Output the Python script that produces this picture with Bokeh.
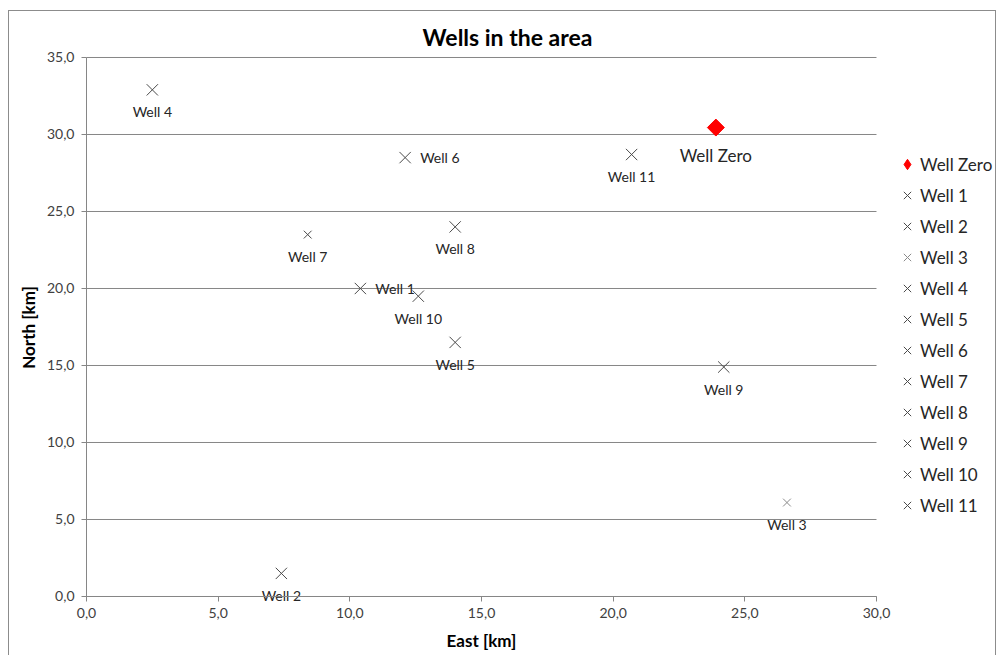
import math
from bokeh.plotting import figure
from bokeh.models import (Range1d, FixedTicker, CustomJSTickFormatter, Legend,
                          LegendItem, ColumnDataSource, Label)
from bokeh.core.properties import value
from bokeh.embed import file_html
from bokeh.resources import INLINE

FONT = "Lato"

# Well coordinates [km]
names = ["Well Zero", "Well 1", "Well 2", "Well 3", "Well 4", "Well 5", "Well 6",
         "Well 7", "Well 8", "Well 9", "Well 10", "Well 11"]
east = [23.9, 10.4, 7.4, 26.6, 2.5, 14.0, 12.1, 8.4, 14.0, 24.2, 12.6, 20.7]
north = [30.45, 20.0, 1.5, 6.1, 32.9, 16.5, 28.5, 23.5, 24.0, 14.9, 19.5, 28.7]

x_ticks = [0, 5, 10, 15, 20, 25, 30]
y_ticks = [0, 5, 10, 15, 20, 25, 30, 35]

# The frame fills the whole canvas; both axes are pinned at 0 so that the
# tick labels, titles and legend all sit inside it.
p = figure(width=988, height=650, x_range=Range1d(-2.924, 34.595),
           y_range=Range1d(-4.221, 37.987),
           output_backend="svg", toolbar_location=None,
           min_border_left=0, min_border_right=0, min_border_top=0,
           min_border_bottom=0)
p.margin = (10, 0, 0, 8)
p.styles = {"border": "1px solid #8c8c8c"}
p.outline_line_color = None
p.background_fill_color = "white"
p.border_fill_color = "white"

tick_fmt = CustomJSTickFormatter(code="return tick.toFixed(1).replace('.', ',');")
for ax, ticks in ((p.xaxis[0], x_ticks), (p.yaxis[0], y_ticks)):
    ax.ticker = FixedTicker(ticks=ticks)
    ax.formatter = tick_fmt
    ax.bounds = (ticks[0], ticks[-1])
    ax.fixed_location = 0
    ax.axis_line_color = "#868686"
    ax.major_tick_line_color = "#868686"
    ax.major_tick_out = 5
    ax.major_tick_in = 0
    ax.minor_tick_line_color = None
    ax.major_label_text_font = FONT
    ax.major_label_text_font_size = "14px"
    ax.major_label_text_color = "#404040"
    ax.major_label_standoff = 7

p.xgrid.grid_line_color = None
p.ygrid.grid_line_color = None

# horizontal grid lines, bounded by the x tick range
x0, x1 = x_ticks[0], x_ticks[-1]
p.segment(x0=[x0] * len(y_ticks), x1=[x1] * len(y_ticks), y0=y_ticks, y1=y_ticks,
          line_color="#868686", line_width=1)

# chart title and axis titles, in screen pixels from the frame's lower left
TITLE_STYLE = dict(x_units="screen", y_units="screen", text_align="center",
                   text_baseline="middle", text_font=FONT, text_font_style="bold",
                   text_color="#000000")
p.add_layout(Label(x=498, y=625, text="Wells in the area", text_font_size="23px",
                   **TITLE_STYLE))
p.add_layout(Label(x=472, y=21, text="East [km]", text_font_size="17px",
                   **TITLE_STYLE))
p.add_layout(Label(x=19, y=334, text="North [km]", text_font_size="17px",
                   angle=math.pi / 2, **TITLE_STYLE))

# per-well marker look
marker_size = {"Well 3": 11, "Well 7": 11}
marker_color = {"Well 3": "#8a8a8a"}

items = []
for name, e, n in zip(names, east, north):
    src = ColumnDataSource(dict(x=[e], y=[n]))
    if name == "Well Zero":
        # legend swatch: a diamond tucked under the turned square
        key = p.scatter("x", "y", source=src, marker="diamond", size=11,
                        fill_color="#ff0000", line_color="#ff0000")
        p.scatter("x", "y", source=src, marker="square", size=12,
                  angle=math.pi / 4, fill_color="#ff0000", line_color="#ff0000")
        items.append(LegendItem(label=name, renderers=[key]))
    else:
        r = p.scatter("x", "y", source=src, marker="x",
                      size=marker_size.get(name, 16),
                      line_color=marker_color.get(name, "#4a4a4a"), line_width=1)
        items.append(LegendItem(label=name, renderers=[r]))

# point labels: most sit under the marker, two sit to its right
right_side = {"Well 1", "Well 6"}
below = [i for i, nm in enumerate(names) if nm not in right_side and nm != "Well Zero"]
side = [i for i, nm in enumerate(names) if nm in right_side]

p.text(x=[east[i] for i in below], y=[north[i] for i in below],
       text=[names[i] for i in below], text_align="center", text_baseline="middle",
       y_offset=22, text_font=value(FONT), text_font_size="14px", text_color="#262626")
p.text(x=[east[i] for i in side], y=[north[i] for i in side],
       text=[names[i] for i in side], text_align="left", text_baseline="middle",
       x_offset=15, text_font=value(FONT), text_font_size="14px", text_color="#262626")
p.text(x=[east[0]], y=[north[0]], text=[names[0]], text_align="center",
       text_baseline="middle", y_offset=28, text_font=value(FONT),
       text_font_size="17px", text_color="#262626")

legend = Legend(items=items, location=(885, 143), orientation="vertical",
                border_line_color=None, background_fill_alpha=0,
                label_text_font=FONT, label_text_font_size="17px",
                label_text_color="#262626", glyph_width=26, glyph_height=26,
                label_standoff=0, spacing=5, padding=0, margin=0,
                label_height=26)
p.add_layout(legend, "center")

open("out.html", "w").write(file_html(p, INLINE))
